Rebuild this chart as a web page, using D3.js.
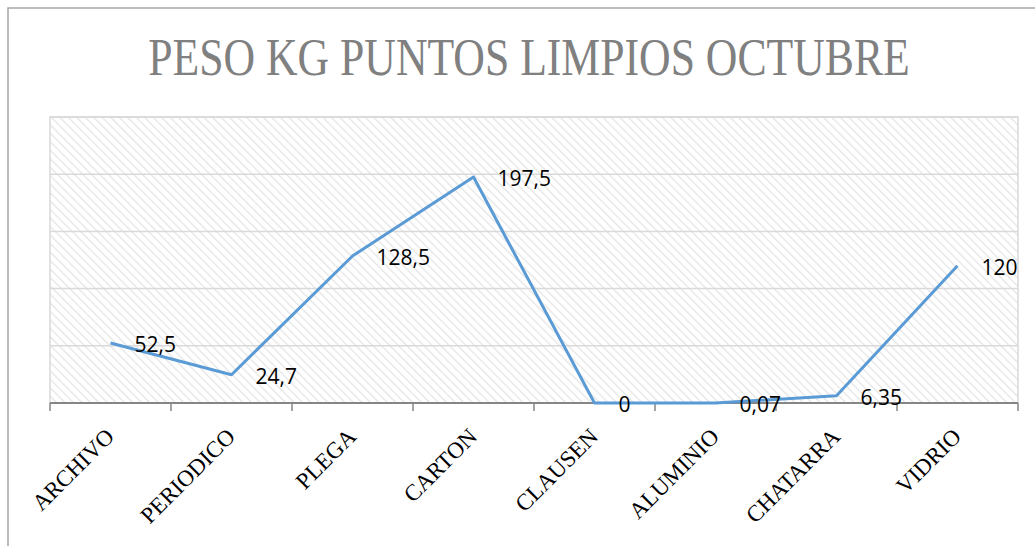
<!DOCTYPE html>
<html>
<head>
<meta charset="utf-8">
<script src="https://cdn.jsdelivr.net/npm/d3@7"></script>
<style>
  body { margin: 0; background: #fff; }
  svg { display: block; }
</style>
</head>
<body>
<svg id="chart"></svg>
<script>
// Chart data
const categories = ["ARCHIVO", "PERIODICO", "PLEGA", "CARTON", "CLAUSEN", "ALUMINIO", "CHATARRA", "VIDRIO"];
const pesos = [52.5, 24.7, 128.5, 197.5, 0, 0.07, 6.35, 120];
const pesoLabels = ["52,5", "24,7", "128,5", "197,5", "0", "0,07", "6,35", "120"];
const gridValues = [50, 100, 150, 200, 250];
const titleText = "PESO KG PUNTOS LIMPIOS OCTUBRE";

const W = 1035, H = 546;
const margin = { top: 117, right: 17, bottom: 143, left: 50 };
const width = W - margin.left - margin.right;
const height = H - margin.top - margin.bottom;

const root = d3.select("#chart").attr("width", W).attr("height", H);

// Outer chart frame
root.append("path")
    .attr("d", `M8,${H} L8,8 L${W},8`)
    .attr("fill", "none")
    .attr("stroke", "#a6a6a6")
    .attr("stroke-width", 1.5);

// Title, squeezed horizontally to look like a condensed face
const titleG = root.append("g");
const title = titleG.append("text")
    .attr("x", 0)
    .attr("y", 0)
    .attr("text-anchor", "middle")
    .attr("font-family", "Liberation Serif, serif")
    .attr("font-size", 52)
    .attr("fill", "#808080")
    .text(titleText);
const natural = title.node().getComputedTextLength();
titleG.attr("transform", `translate(529,75) scale(${762 / natural},1)`);

// Hatch pattern for the plot area
const defs = root.append("defs");
const pat = defs.append("pattern")
    .attr("id", "hatch")
    .attr("patternUnits", "userSpaceOnUse")
    .attr("width", 6)
    .attr("height", 6)
    .attr("patternTransform", "rotate(-45)");
pat.append("rect").attr("width", 6).attr("height", 6).attr("fill", "#ffffff");
pat.append("line")
    .attr("x1", 0).attr("y1", 0).attr("x2", 0).attr("y2", 6)
    .attr("stroke", "#e4e4e4")
    .attr("stroke-width", 2.5);

const svg = root.append("g")
    .attr("transform", `translate(${margin.left},${margin.top})`);

// Scales
const x = d3.scaleBand()
    .domain(categories)
    .range([0, width]);

const y = d3.scaleLinear()
    .domain([0, 250])
    .range([height, 0]);

// Plot background
svg.append("rect")
    .attr("width", width)
    .attr("height", height)
    .attr("fill", "url(#hatch)")
    .attr("stroke", "#d9d9d9")
    .attr("stroke-width", 1.5);

// Gridlines
svg.selectAll(".grid")
    .data(gridValues)
    .enter()
    .append("line")
    .attr("class", "grid")
    .attr("x1", 0)
    .attr("x2", width)
    .attr("y1", d => y(d))
    .attr("y2", d => y(d))
    .attr("stroke", "#d9d9d9")
    .attr("stroke-width", 1.5);

// X axis: ticks between categories
const boundaries = categories.map(c => x(c)).concat([width]);
svg.selectAll(".tick-mark")
    .data(boundaries)
    .enter()
    .append("line")
    .attr("class", "tick-mark")
    .attr("x1", d => d)
    .attr("x2", d => d)
    .attr("y1", height)
    .attr("y2", height + 8)
    .attr("stroke", "#868686")
    .attr("stroke-width", 1.5);

svg.append("line")
    .attr("x1", 0)
    .attr("x2", width)
    .attr("y1", height)
    .attr("y2", height)
    .attr("stroke", "#868686")
    .attr("stroke-width", 2);

// Category labels, rotated
svg.selectAll(".cat-label")
    .data(categories)
    .enter()
    .append("text")
    .attr("class", "cat-label")
    .attr("transform", d => `translate(${x(d) + x.bandwidth() / 2 + 5},${height + 35}) rotate(-45)`)
    .attr("text-anchor", "end")
    .attr("font-family", "Liberation Serif, serif")
    .attr("font-size", 23)
    .attr("fill", "#000")
    .text(d => d);

// Line
const line = d3.line()
    .x((d, i) => x(categories[i]) + x.bandwidth() / 2)
    .y(d => y(d));

svg.append("path")
    .datum(pesos)
    .attr("fill", "none")
    .attr("stroke", "#5b9bd5")
    .attr("stroke-width", 3)
    .attr("stroke-linejoin", "round")
    .attr("d", line);

// Data labels
svg.selectAll(".val-label")
    .data(pesos)
    .enter()
    .append("text")
    .attr("class", "val-label")
    .attr("x", (d, i) => x(categories[i]) + x.bandwidth() / 2 + 24)
    .attr("y", d => y(d) + 2)
    .attr("dy", "0.35em")
    .attr("font-family", "Open Sans, sans-serif")
    .attr("font-size", 21)
    .attr("fill", "#000")
    .text((d, i) => pesoLabels[i]);
</script>
</body>
</html>
